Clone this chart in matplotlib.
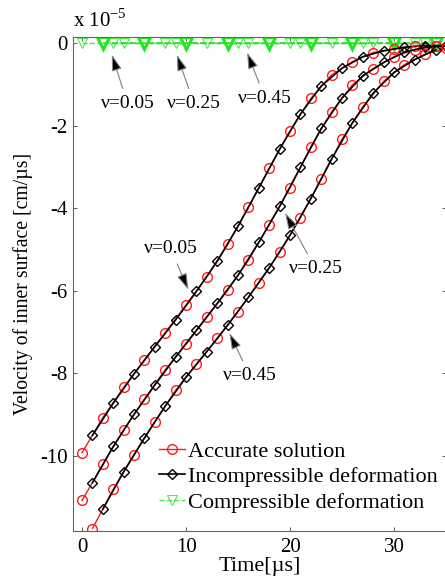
import matplotlib
matplotlib.use('Agg')
import matplotlib.pyplot as plt


plt.rcParams['font.family'] = ['Liberation Serif', 'DejaVu Serif']
plt.rcParams['mathtext.fontset'] = 'custom'
plt.rcParams['mathtext.rm'] = 'Liberation Serif'
plt.rcParams['axes.unicode_minus'] = False

# Velocity of the inner surface, in units of 1e-5 cm/us
# accurate solution sampled every 2 us, incompressible model in between
T_EVEN = [0, 2, 4, 6, 8, 10, 12, 14, 16, 18, 20, 22, 24, 26, 28, 30, 32, 34]
T_ODD = [1, 3, 5, 7, 9, 11, 13, 15, 17, 19, 21, 23, 25, 27, 29, 31, 33, 35]
T_EVEN_LATE = [2, 4, 6, 8, 10, 12, 14, 16, 18, 20, 22, 24, 26, 28, 30, 32, 34]

acc_005 = [-9.92, -9.07, -8.34, -7.67, -7.01, -6.34, -5.65, -4.87, -3.97,
           -3.03, -2.12, -1.33, -0.76, -0.44, -0.22, -0.13, -0.07, -0.05]
inc_005 = [-9.50, -8.72, -8.01, -7.35, -6.70, -6.01, -5.28, -4.43, -3.50,
           -2.56, -1.71, -1.03, -0.60, -0.32, -0.18, -0.09, -0.05, -0.05]

acc_025 = [-11.08, -10.20, -9.37, -8.62, -7.91, -7.29, -6.64, -5.98, -5.25,
           -4.39, -3.50, -2.50, -1.66, -1.00, -0.61, -0.32, -0.15, -0.07]
inc_025 = [-10.65, -9.77, -8.99, -8.28, -7.60, -6.95, -6.30, -5.62, -4.82,
           -3.95, -3.00, -2.06, -1.32, -0.78, -0.46, -0.21, -0.09, -0.06]

acc_045 = [-11.76, -10.81, -9.98, -9.17, -8.41, -7.77, -7.15, -6.50, -5.80,
           -5.06, -4.22, -3.29, -2.32, -1.54, -0.92, -0.51, -0.26, -0.12]
inc_045 = [-11.29, -10.38, -9.56, -8.79, -8.09, -7.47, -6.83, -6.15, -5.44,
           -4.65, -3.76, -2.80, -1.92, -1.20, -0.70, -0.39, -0.15]

# compressible deformation stays at zero for every Poisson ratio
T_COMP_A = [0, 4, 8, 12, 16, 20, 24, 28, 32]
T_COMP_B = [3, 9, 15, 21, 27, 33]
T_COMP_C = [2, 6, 10, 14, 18, 22, 26, 30, 34]
comp_a = [0, 0, 0, 0, 0, 0, 0, 0, 0]
comp_b = [0, 0, 0, 0, 0, 0]
comp_c = [0, 0, 0, 0, 0, 0, 0, 0, 0]

RED = '#ff1a1a'
GREEN = '#22e622'

fig = plt.figure(figsize=(4.45, 5.78), dpi=100)
ax = fig.add_axes([0.1634, 0.0813, 0.839, 0.8542])

ax.plot(T_COMP_A, comp_a, color=GREEN, ls='--', lw=1.0, marker='v', ms=7,
        mfc='none', mew=0.8, label='Compressible deformation', alpha=0.8)
ax.plot(T_COMP_B, comp_b, color=GREEN, ls='--', lw=1.0, marker='v', ms=7,
        mfc='none', mew=0.8, alpha=0.8)
ax.plot(T_COMP_C, comp_c, color=GREEN, ls='--', lw=1.2, marker='v', ms=8,
        mfc='none', mew=2.2)

curves = [(T_EVEN, acc_005, T_ODD, inc_005),
          (T_EVEN, acc_025, T_ODD, inc_025),
          (T_ODD, acc_045, T_EVEN_LATE, inc_045)]
for i, (ta, va, ti, vi) in enumerate(curves):
    ax.plot(ta, va, color=RED, lw=1.0, marker='o', ms=7, mfc='none', mew=1.0,
            label='Accurate solution' if i == 0 else None)
    ax.plot(ti, vi, color='black', lw=1.2, marker='D', ms=5, mfc='none', mew=1.0,
            label='Incompressible deformation' if i == 0 else None)

ax.set_xlim(-0.9, 35)
ax.set_ylim(-11.82, 0.15)
ax.set_xticks([0, 10, 20, 30])
ax.set_yticks([0, -2, -4, -6, -8, -10])
ax.tick_params(direction='in', length=3, width=0.7, color='0.35', top=True, right=True,
               labelsize=15, pad=3.5)
ax.tick_params(axis='x', pad=5)
for sp in ax.spines.values():
    sp.set_color('0.4')
    sp.set_linewidth(0.8)

ax.set_xlabel('Time[µs]', fontsize=16, labelpad=0)
ax.set_ylabel('Velocity of inner surface [cm/µs]', fontsize=14.2)
ax.yaxis.set_label_coords(-0.106, 0.5)
ax.text(0, 1.012, r'x 10$^{\mathrm{-5}}$', transform=ax.transAxes, fontsize=15,
        ha='left', va='bottom')

arrow = dict(arrowstyle='-|>,head_length=0.55,head_width=0.17', color='0.5',
             fc='black', lw=0.8, shrinkA=3, shrinkB=0, mutation_scale=18)
notes = [('ν=0.05', (2.86, -0.27), (4.38, -1.46)),
         ('ν=0.25', (9.11, -0.27), (10.77, -1.46)),
         ('ν=0.45', (15.87, -0.22), (17.6, -1.33)),
         ('ν=0.05', (10.22, -5.97), (8.51, -4.98)),
         ('ν=0.25', (19.52, -4.11), (22.45, -5.46)),
         ('ν=0.45', (14.16, -7.02), (16.15, -8.06))]
for txt, tip, pos in notes:
    ax.annotate(txt, xy=tip, xytext=pos, fontsize=14, ha='center', va='center',
                arrowprops=arrow)

handles, labels = ax.get_legend_handles_labels()
order = [labels.index(n) for n in ['Accurate solution', 'Incompressible deformation',
                                   'Compressible deformation']]
ax.legend([handles[k] for k in order], [labels[k] for k in order],
          loc='center left', bbox_to_anchor=(0.232, 0.1095), frameon=False,
          fontsize=16, handlelength=1.15, handletextpad=0.12, labelspacing=0.22,
          borderpad=0, borderaxespad=0)

fig.savefig('out.png', dpi=100)
